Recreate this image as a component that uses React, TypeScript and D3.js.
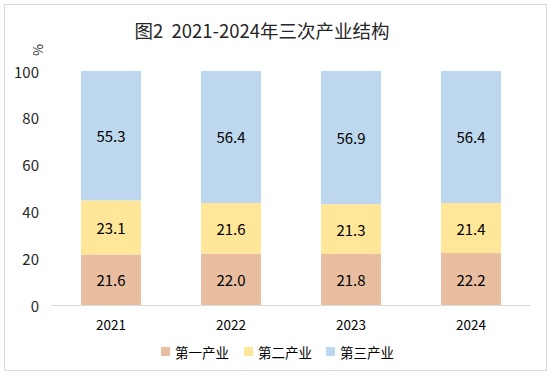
import React from "react";
import * as d3 from "d3";

const years = ["2021", "2022", "2023", "2024"];
const primary = [21.6, 22.0, 21.8, 22.2];
const secondary = [23.1, 21.6, 21.3, 21.4];
const tertiary = [55.3, 56.4, 56.9, 56.4];
const seriesNames = ["第一产业", "第二产业", "第三产业"];
const colors = ["#E8BDA0", "#FFE699", "#BDD7EE"];
const yTicks = [0, 20, 40, 60, 80, 100];
const title = "图2\u00a0\u00a02021-2024年三次产业结构";

const W = 552, H = 376;
const font = "'Noto Sans CJK SC', 'Noto Sans', sans-serif";

export default function App() {
  const x = d3.scaleBand<string>().domain(years).range([51, 531]).paddingInner(0.5).paddingOuter(0.25);
  const y = d3.scaleLinear().domain([0, 100]).range([305, 71]);
  const rows = years.map((yr, i) => ({ year: yr, s0: primary[i], s1: secondary[i], s2: tertiary[i] }));
  const stack = d3.stack<any>().keys(["s0", "s1", "s2"]);
  const layers = stack(rows);

  const legendX = [161, 244, 326];

  return (
    <svg width={W} height={H} style={{ position: "absolute", left: 0, top: 0, fontFamily: font }}>
      <rect x={4.5} y={4.5} width={542} height={366} fill="#fff" stroke="#D9D9D9" strokeWidth={1} />
      <text x={262} y={38} textAnchor="middle" fontSize={18.5} fill="#262626">{title}</text>
      <text transform={`translate(37,50) rotate(-90)`} textAnchor="middle" dominantBaseline="central" fontSize={13} fill="#262626">%</text>
      {yTicks.map(t => (
        <text key={t} x={39} y={y(t)} textAnchor="end" dominantBaseline="central" fontSize={15} fill="#262626">{t}</text>
      ))}
      {layers.map((layer, li) => (
        <g key={li}>
          {layer.map((d, i) => (
            <rect key={i} x={x(years[i])} y={y(d[1])} width={x.bandwidth()} height={y(d[0]) - y(d[1])} fill={colors[li]} />
          ))}
        </g>
      ))}
      {layers.map((layer, li) => (
        <g key={"l" + li}>
          {layer.map((d, i) => (
            <text key={i} x={(x(years[i]) as number) + x.bandwidth() / 2} y={y((d[0] + d[1]) / 2)} textAnchor="middle" dominantBaseline="central" fontSize={15} fill="#000">
              {(d[1] - d[0]).toFixed(1)}
            </text>
          ))}
        </g>
      ))}
      <line x1={51} x2={531} y1={y(0) + 0.5} y2={y(0) + 0.5} stroke="#D9D9D9" strokeWidth={1} />
      {years.map(yr => (
        <text key={yr} x={(x(yr) as number) + x.bandwidth() / 2} y={324} textAnchor="middle" dominantBaseline="central" fontSize={13.5} fill="#000">{yr}</text>
      ))}
      {seriesNames.map((n, i) => (
        <g key={n}>
          <rect x={legendX[i]} y={347} width={9} height={9} fill={colors[i]} />
          <text x={legendX[i] + 14} y={352} dominantBaseline="central" fontSize={13.5} fill="#000">{n}</text>
        </g>
      ))}
    </svg>
  );
}
